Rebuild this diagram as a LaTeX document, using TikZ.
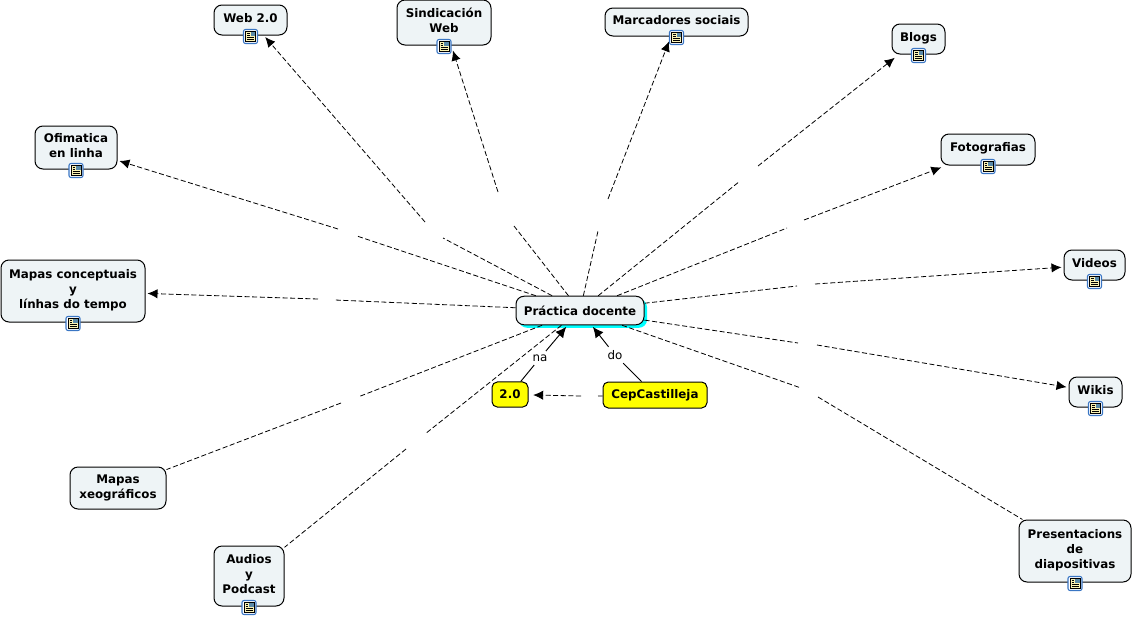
\documentclass[tikz,border=0pt]{standalone}
\usepackage{fontspec}
\setmainfont{DejaVu Sans}
\usetikzlibrary{arrows.meta,shadows}
\definecolor{conceptFill}{HTML}{EEF4F6}
\definecolor{hubGlow}{RGB}{0,255,255}
\definecolor{boxYellow}{RGB}{255,255,0}
\definecolor{iconBlue}{HTML}{3A76C4}
\definecolor{iconNote}{HTML}{FBF3B4}
\definecolor{iconPhoto}{HTML}{5B8AA8}
\newcommand{\iconpad}{\rule[-3.4pt]{0pt}{0pt}}
\newcommand{\docicon}[1]{%
  \begin{scope}[shift={(#1.south)}, yshift=-0.75pt]
    \draw[draw=iconBlue, fill=white, rounded corners=1.5pt, line width=0.8pt] (-7,-7) rectangle (7,7);
    \draw[draw=black, fill=iconNote, line width=0.5pt] (-5,-5) rectangle (5,5);
    \fill[iconPhoto] (0,-4.6) rectangle (4.6,-0.5);
    \draw[line width=0.5pt] (-3.5,-3) -- (-1,-3) (-3.5,-1) -- (-1,-1) (-3.5,1) -- (3.5,1) (-3.5,3) -- (3.5,3);
  \end{scope}}
\begin{document}
\begin{tikzpicture}[
  x=0.75pt, y=-0.75pt,
  >=Latex,
  concept/.style={draw=black, fill=conceptFill, rounded corners=6pt, align=center, inner sep=0pt, line width=0.75pt, font=\fontsize{8.9}{11.1}\selectfont\bfseries},
  yellowbox/.style={concept, fill=boxYellow, rounded corners=4pt},
  phrase/.style={inner sep=2.5pt, font=\fontsize{8.9}{10}\selectfont},
  dashline/.style={line width=0.6pt, dash pattern=on 3.8pt off 1.9pt},
  dasharrow/.style={dashline, -{Latex[length=7.5pt, width=7pt]}, shorten >=1.5pt},
  fararrow/.style={dasharrow, shorten >=4pt},
  solidline/.style={line width=0.7pt},
  solidarrow/.style={solidline, -{Latex[length=8pt, width=7.5pt]}, shorten >=1.5pt}
]
\useasboundingbox (0,0) rectangle (1132,618);

\node[concept, minimum width=96pt, minimum height=21.4pt, copy shadow={fill=hubGlow, draw=none, shadow xshift=2.25pt, shadow yshift=-2.25pt}] (hub) at (580,310.5) {Práctica docente};
\node[yellowbox, minimum width=27pt, minimum height=18.8pt] (two) at (510,394.5) {2.0};
\node[yellowbox, minimum width=78pt, minimum height=19.5pt] (cep) at (655,395) {CepCastilleja};

\node[concept, minimum width=54.75pt, minimum height=22.5pt] (web) at (250.5,20) {Web 2.0\iconpad};
\node[concept, minimum width=70.5pt, minimum height=33.75pt] (sind) at (444,22.5) {Sindicación\\Web\iconpad};
\node[concept, minimum width=107.25pt, minimum height=21pt] (marc) at (676.5,22) {Marcadores sociais\iconpad};
\node[concept, minimum width=39.75pt, minimum height=22.5pt] (blogs) at (918.5,39) {Blogs\iconpad};
\node[concept, minimum width=70.5pt, minimum height=23.25pt] (foto) at (988,149.5) {Fotografias\iconpad};
\node[concept, minimum width=45.75pt, minimum height=22.5pt] (videos) at (1094.5,265) {Videos\iconpad};
\node[concept, minimum width=39.75pt, minimum height=22.5pt] (wikis) at (1095.5,392) {Wikis\iconpad};
\node[concept, minimum width=84pt, minimum height=46.5pt] (pres) at (1075,551) {Presentacions\\de\\diapositivas\iconpad};
\node[concept, minimum width=52.5pt, minimum height=45pt] (audios) at (249,576) {Audios\\y\\Podcast\iconpad};
\node[concept, minimum width=108pt, minimum height=46.5pt] (mapc) at (73,291) {Mapas conceptuais\\y\\línhas do tempo\iconpad};
\node[concept, minimum width=61.5pt, minimum height=32.25pt] (ofi) at (76,147.5) {Ofimatica\\en linha\iconpad};
\node[concept, minimum width=72pt, minimum height=31.5pt] (mapx) at (118,488) {Mapas\\xeográficos};

\foreach \id in {web,sind,marc,blogs,foto,videos,wikis,pres,audios,mapc,ofi} {
  \docicon{\id}
}

% links out of the hub, each broken where its phrase would sit
\foreach \id/\ax/\ay/\bx/\by/\linkstyle in {
  web/443/238/425/222/dasharrow,
  sind/514/226/498/192/fararrow,
  marc/598/231/608/199/fararrow,
  blogs/740/181/758/166/fararrow,
  foto/787/228/804/220/fararrow,
  videos/797/286/815/284/dasharrow,
  wikis/798/343/817/345/dasharrow,
  pres/801/388/818/397/dashline,
  audios/425/434/406/449/dashline,
  mapx/358/397/341/403/dashline,
  mapc/335/300/318/299/dasharrow,
  ofi/357/236/338/229/dasharrow%
} {
  \coordinate (\id-a) at (\ax,\ay);
  \coordinate (\id-b) at (\bx,\by);
  \draw[dashline] (hub) -- (\id-a);
  \draw[\linkstyle] (\id-b) -- (\id);
}

\node[phrase] (na) at (540,358) {na};
\node[phrase] (do) at (615,355) {do};
\draw[solidline] (two) -- (na);
\draw[solidarrow] (na) -- (hub);
\draw[solidline] (cep) -- (do);
\draw[solidarrow] (do) -- (hub);

\coordinate (cep-a) at (598,396);
\coordinate (cep-b) at (581,396);
\draw[dashline] (cep) -- (cep-a);
\draw[dasharrow, shorten >=3.5pt] (cep-b) -- (two);
\end{tikzpicture}
\end{document}
